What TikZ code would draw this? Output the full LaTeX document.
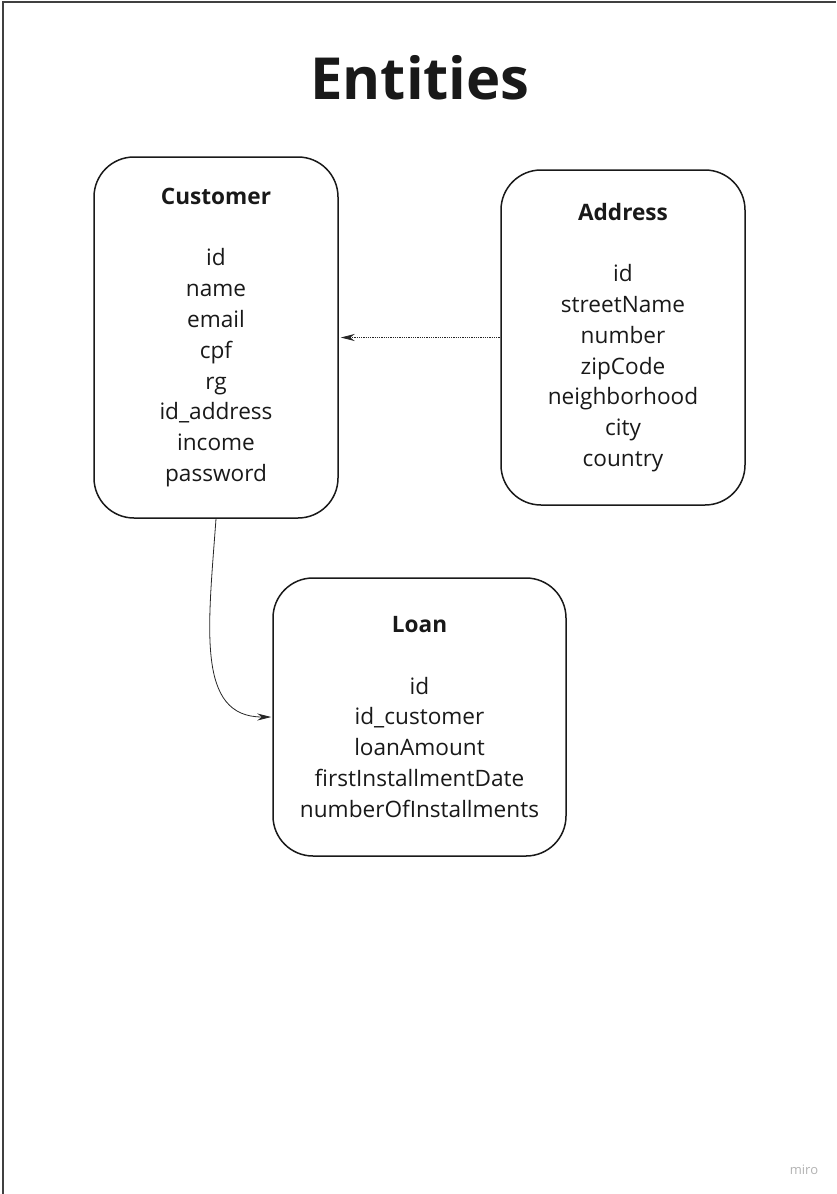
\documentclass[tikz,border=0pt]{standalone}
\usepackage{fontspec}
\setmainfont{Open Sans}
\usetikzlibrary{arrows.meta}
\tikzset{
  entity/.style={draw=black!90, line width=1.5pt, rounded corners=40pt, align=center,
    font=\fontsize{22.6}{30.8}\selectfont, text=black!90, inner sep=0pt},
  link/.style={-{Stealth[length=14pt,width=7pt]}, line width=0.8pt, black!85}
}
\begin{document}
\begin{tikzpicture}[x=1pt,y=-1pt]
  \useasboundingbox (0,0) rectangle (836,1194);
  \draw[line width=1.5pt, black!75] (3,1194) -- (3,2) -- (836,2);
  \node[font=\fontsize{58}{60}\selectfont\bfseries, text=black!90] (title) at (420,78) {Entities};

  \node[entity, minimum width=244pt, minimum height=361pt] (customer) at (216,337.5)
    {\textbf{Customer}\\[30.8pt] id\\ name\\ email\\ cpf\\ rg\\ id\_address\\ income\\ password};
  \node[entity, minimum width=244pt, minimum height=335pt] (address) at (623,337.5)
    {\textbf{Address}\\[30.8pt] id\\ streetName\\ number\\ zipCode\\ neighborhood\\ city\\ country};
  \node[entity, minimum width=293pt, minimum height=278pt] (loan) at (419.5,717)
    {\textbf{Loan}\\[30.8pt] id\\ id\_customer\\ loanAmount\\ firstInstallmentDate\\ numberOfInstallments};

  \draw[link, densely dotted] (address.west) -- ([xshift=2pt]customer.east);
  \draw[link] (customer.south) .. controls +(-8,110) and +(-75,0) .. ([xshift=-1pt]loan.west);

  \node[font=\fontsize{13}{15}\selectfont, text=black!30] (miro) at (804,1170) {miro};
\end{tikzpicture}
\end{document}
